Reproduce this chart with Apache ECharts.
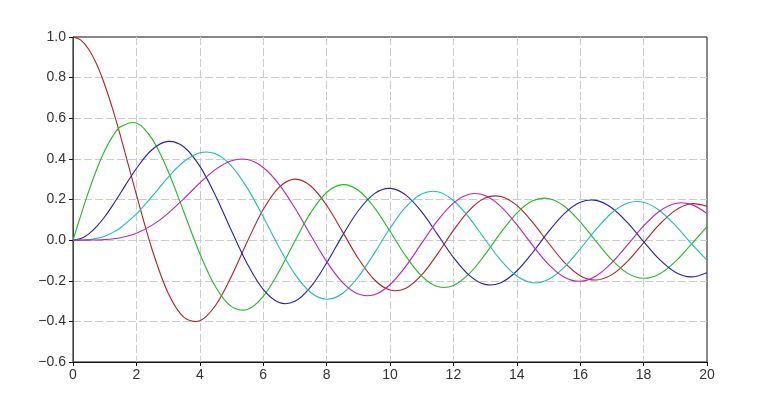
<!DOCTYPE html>
<html><head><meta charset="utf-8">
<script src="https://cdn.jsdelivr.net/npm/echarts@6/dist/echarts.min.js"></script>
<style>html,body{margin:0;padding:0;background:#fff}#c{width:780px;height:400px}</style>
</head><body><div id="c"></div>
<script>
const xs = [0,0.25,0.5,0.75,1,1.25,1.5,2,2.5,3,3.5,4,4.5,5,5.5,6,6.5,7,7.5,8,8.5,9,9.5,10,10.5,11,11.5,12,12.5,13,13.5,14,14.5,15,15.5,16,16.5,17,17.5,18,18.5,19,19.5,20];
const j0 = [1.0,0.9844,0.9385,0.8642,0.7652,0.6459,0.5118,0.2239,-0.0484,-0.2601,-0.3801,-0.3971,-0.3205,-0.1776,-0.0068,0.1506,0.2601,0.3001,0.2663,0.1717,0.0419,-0.0903,-0.1939,-0.2459,-0.2366,-0.1712,-0.0677,0.0477,0.1469,0.2069,0.2150,0.1711,0.0875,-0.0142,-0.1092,-0.1749,-0.1964,-0.1699,-0.1032,-0.0134,0.0772,0.1466,0.1790,0.1670];
const j1 = [0,0.1240,0.2423,0.3492,0.4401,0.5106,0.5579,0.5767,0.4971,0.3391,0.1374,-0.0660,-0.2311,-0.3276,-0.3414,-0.2767,-0.1538,-0.0047,0.1352,0.2346,0.2731,0.2453,0.1613,0.0435,-0.0789,-0.1768,-0.2284,-0.2234,-0.1653,-0.0703,0.0380,0.1334,0.1933,0.2051,0.1671,0.0904,-0.0058,-0.0977,-0.1636,-0.1880,-0.1666,-0.1057,-0.0209,0.0668];
const j2 = [0,0.0078,0.0306,0.0671,0.1149,0.1711,0.2321,0.3528,0.4461,0.4861,0.4586,0.3641,0.2178,0.0466,-0.1173,-0.2429,-0.3074,-0.3014,-0.2303,-0.1130,0.0223,0.1448,0.2279,0.2546,0.2216,0.1391,0.0280,-0.0849,-0.1734,-0.2177,-0.2094,-0.1520,-0.0608,0.0415,0.1308,0.1862,0.1957,0.1584,0.0845,-0.0075,-0.0952,-0.1577,-0.1811,-0.1603];
const j3 = [0,0.0003,0.0026,0.0085,0.0196,0.0369,0.0610,0.1289,0.2166,0.3091,0.3868,0.4302,0.4247,0.3648,0.2561,0.1148,-0.0353,-0.1676,-0.2581,-0.2911,-0.2626,-0.1809,-0.0653,0.0584,0.1633,0.2274,0.2381,0.1951,0.1098,0.0033,-0.1000,-0.1768,-0.2101,-0.1940,-0.1333,-0.0438,0.0532,0.1350,0.1829,0.1863,0.1460,0.0725,-0.0162,-0.0989];
const j4 = [0,0.0000,0.0002,0.0008,0.0025,0.0059,0.0118,0.0340,0.0738,0.1320,0.2044,0.2811,0.3484,0.3912,0.3967,0.3576,0.2748,0.1578,0.0238,-0.1054,-0.2077,-0.2655,-0.2691,-0.2196,-0.1283,-0.0150,0.0962,0.1825,0.2261,0.2193,0.1650,0.0762,-0.0261,-0.1192,-0.1824,-0.2027,-0.1764,-0.1107,-0.0218,0.0696,0.1425,0.1806,0.1761,0.1307];
const seriesNames = ['J0', 'J1', 'J2', 'J3', 'J4'];
const seriesData = [j0, j1, j2, j3, j4];
const colors = ['#b22222', '#22bb22', '#2222aa', '#22bbbb', '#bb22bb'];

const fmt = v => v.toFixed(1).replace('-', '\u2212');
const xfmt = v => String(v);
const labelStyle = {color:'#333', fontFamily:'Liberation Sans', fontSize:14};
const gridLine = {show:true, showMinLine:false, showMaxLine:false, lineStyle:{type:[8,3], color:'#cccccc'}};

const chart = echarts.init(document.getElementById('c'), null, {renderer:'canvas'});
chart.setOption({
  animation:false,
  grid:{left:73, right:73, top:37, bottom:38, show:true, borderColor:'#111', borderWidth:1, containLabel:false},
  xAxis:{type:'value', min:0, max:20, interval:2,
    axisLine:{show:true, onZero:false, lineStyle:{color:'#111'}},
    axisTick:{show:true, length:4, lineStyle:{color:'#111'}},
    axisLabel:Object.assign({formatter:xfmt, margin:6}, labelStyle),
    splitLine:gridLine},
  yAxis:{type:'value', min:-0.6, max:1.0, interval:0.2,
    axisLine:{show:true, onZero:false, lineStyle:{color:'#444'}},
    axisTick:{show:true, length:4, lineStyle:{color:'#111'}},
    axisLabel:Object.assign({formatter:fmt, margin:7}, labelStyle),
    splitLine:gridLine},
  series: seriesData.map((d, i) => ({
    type:'custom', name:seriesNames[i],
    data: xs.map((x, k) => [x, d[k]]),
    encode:{x:0, y:1},
    clip:true,
    renderItem:(params, api) => {
      if (params.dataIndex !== 0) return null;
      const pts = xs.map((x, k) => api.coord([x, d[k]]));
      return {type:'polyline', silent:true,
        shape:{points:pts, smooth:0.34},
        style:{stroke:colors[i], lineWidth:1.1, fill:null}};
    }
  }))
});
</script></body></html>
